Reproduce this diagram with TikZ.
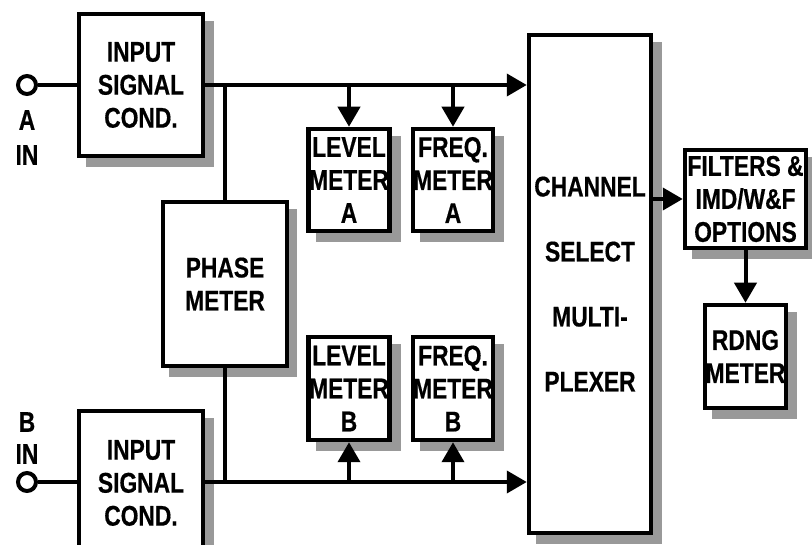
\documentclass[tikz,border=0pt]{standalone}
\usepackage{fontspec}
\newfontfamily\df[FakeStretch=0.8,FakeBold=0.5]{Liberation Sans}
\usetikzlibrary{arrows.meta}
\colorlet{shgray}{black!40}
\begin{document}
\begin{tikzpicture}[x=1pt,y=-1pt,
  box/.style={draw=black, line width=4.5pt, fill=white, inner sep=0pt, align=center,
    font=\df\bfseries\fontsize{28.5}{33}\selectfont},
  shadowbox/.style={fill=shgray, draw=none},
  wire/.style={line width=4pt},
  arr/.style={line width=4pt, -{Triangle[length=20pt,width=22pt]}},
  term/.style={circle, draw, line width=4pt, minimum size=18pt, inner sep=0pt, fill=white},
  lbl/.style={font=\df\bfseries\fontsize{28.5}{33}\selectfont, inner sep=0pt}]
\fill[white] (0,0) rectangle (812,545);
\useasboundingbox (0,0) rectangle (812,545);

% shadows (drawn first, behind boxes)
\fill[shadowbox] (86,21) rectangle (214,167);
\fill[shadowbox] (86,418) rectangle (214,560);
\fill[shadowbox] (169,209) rectangle (297,377);
\fill[shadowbox] (316,136) rectangle (401,242);
\fill[shadowbox] (420,136) rectangle (504,242);
\fill[shadowbox] (316,344) rectangle (401,451);
\fill[shadowbox] (420,344) rectangle (504,451);
\fill[shadowbox] (536,42) rectangle (662,544);
\fill[shadowbox] (692,157) rectangle (817,259);
\fill[shadowbox] (712,312) rectangle (797,419);

% boxes
\node[box, minimum width=124pt, minimum height=142pt] (inA) at (141,85) {INPUT\\SIGNAL\\COND.};
\node[box, minimum width=124pt, minimum height=144pt] (inB) at (141,483) {\raisebox{-6pt}{\parbox{120pt}{\centering INPUT\\SIGNAL\\COND.}}};
\node[box, minimum width=124pt, minimum height=164pt] (phase) at (225,284) {PHASE\\METER};
\node[box, minimum width=81pt, minimum height=102pt] (levA) at (349,180) {LEVEL\\METER\\A};
\node[box, minimum width=80pt, minimum height=102pt] (freqA) at (453,180) {FREQ.\\METER\\A};
\node[box, minimum width=81pt, minimum height=103pt] (levB) at (349,388.5) {LEVEL\\METER\\B};
\node[box, minimum width=80pt, minimum height=103pt] (freqB) at (453,388.5) {FREQ.\\METER\\B};
\node[box, minimum width=122pt, minimum height=498pt, font=\df\bfseries\fontsize{28.5}{65}\selectfont] (chan) at (590,284) {CHANNEL\\SELECT\\MULTI-\\PLEXER};
\node[box, minimum width=121pt, minimum height=98pt] (filt) at (745.5,199) {FILTERS \&\\IMD/W\&F\\OPTIONS};
\node[box, minimum width=81pt, minimum height=103pt] (rdng) at (745.5,356.5) {RDNG\\METER};

% terminals
\node[term] (cA) at (27,85) {};
\node[term] (cB) at (27,482) {};
\node[lbl] (lA1) at (27,120) {A};
\node[lbl] (lA2) at (27,155) {IN};
\node[lbl] (lB1) at (27,422) {B};
\node[lbl] (lB2) at (27,454) {IN};

% coordinates
\coordinate (jA) at (225,85);
\coordinate (jB) at (225,482);
\coordinate (tA1) at (349,85);
\coordinate (tA2) at (453,85);
\coordinate (tB1) at (349,482);
\coordinate (tB2) at (453,482);

% wires
\draw[wire] (cA.east) -- (inA.west |- cA.east);
\draw[wire] (cB.east) -- (inB.west |- cB.east);
\draw[arr] (inA.east |- jA) -- (chan.west |- jA);
\draw[arr] (inB.east |- jB) -- (chan.west |- jB);
\draw[wire] (jA) -- (phase.north);
\draw[wire] (jB) -- (phase.south);
\draw[arr] (tA1) -- (levA.north);
\draw[arr] (tA2) -- (freqA.north);
\draw[arr] (tB1) -- (levB.south);
\draw[arr] (tB2) -- (freqB.south);
\draw[arr] (chan.east |- filt.west) -- (filt.west);
\draw[arr] (filt.south) -- (rdng.north);
\end{tikzpicture}
\end{document}
